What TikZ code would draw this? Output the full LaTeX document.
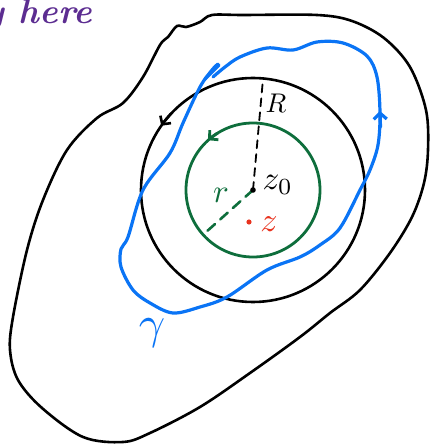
\documentclass[tikz,border=0pt]{standalone}
\usepackage{fontspec}
\usetikzlibrary{arrows.meta}
\definecolor{penblue}{HTML}{0A74F5}
\definecolor{pengreen}{HTML}{0E6E3C}
\definecolor{penred}{HTML}{E8321E}
\definecolor{penpurple}{HTML}{5C2D91}
\begin{document}
\begin{tikzpicture}[x=1pt,y=1pt,line cap=round,line join=round,
  blackpen/.style={draw=black,line width=2.6pt},
  bluepen/.style={draw=penblue,line width=3.2pt},
  greenpen/.style={draw=pengreen,line width=2.8pt},
  barb/.style={-{Straight Barb[length=6pt,width=13pt]}},
  lbl/.style={inner sep=0pt}]
\useasboundingbox (0,0) rectangle (430,445);
\clip (0,0) rectangle (430,445);
% centre
\coordinate (C) at (253,255);
% purple text (cut off at the left edge, as in the reference)
\node[lbl,text=penpurple,anchor=base east,scale=3.5] (here) at (93,421) {\bfseries\itshape y here};
% outer region
\draw[blackpen] plot[smooth cycle,tension=0.55] coordinates {
 (168,408) (177,419) (186,418) (200,423) (212,430) (243,430) (317,430) (352,424)
 (384,407) (410,378) (426,335) (428,295) (424,262) (412,228) (390,192) (360,155)
 (330,132) (300,108) (250,72) (200,38) (150,12) (123,3) (83,8) (42,37) (18,65)
 (10,95) (13,128) (27,195) (43,245) (67,295) (97,327) (123,342) (143,368) (160,400)};
% big circle
\draw[blackpen] (C) circle[radius=112];
\draw[blackpen,barb] ([shift={(137:112)}]C) arc[start angle=137,end angle=145,radius=112];
% small circle
\draw[greenpen] (C) circle[radius=67];
\draw[greenpen,barb] ([shift={(122:67)}]C) arc[start angle=122,end angle=132,radius=67];
% radius R
\coordinate (Rtop) at (263,366);
\draw[black,line width=1.8pt,dash pattern=on 8pt off 6pt] (C) -- (Rtop);
\node[lbl,scale=2.7] (Rlab) at (276,342) {$R$};
% radius r
\coordinate (rend) at (205,212);
\draw[pengreen,line width=2.6pt,dash pattern=on 10pt off 7pt] (C) -- (rend);
\node[lbl,text=pengreen,scale=3.3] (rlab) at (221,250) {$r$};
% z0
\fill[black] (C) circle[radius=2.8];
\node[lbl,scale=3.3,anchor=west] (z0lab) at (262,260) {$z_0$};
% z
\coordinate (zpt) at (249,223);
\fill[penred] (zpt) circle[radius=2.6];
\node[lbl,text=penred,scale=3.4] (zlab) at (269,221) {$z$};
% gamma curve
\draw[bluepen] plot[smooth,tension=0.55] coordinates {
 (213,368) (225,378) (240,388) (267,397) (293,395) (317,403) (343,402) (367,389)
 (377,368) (380,332) (378,300) (370,275) (360,255) (340,217) (320,200) (300,188)
 (267,175) (227,148) (200,138) (173,132) (150,142) (133,155) (121,178) (121,196)
 (128,208) (143,255) (170,292) (183,322) (200,358) (212,375) (218,381)};
\draw[bluepen] (205,366) -- (219,380);
\coordinate (gtip) at (380,334);
\draw[bluepen,barb] (380.5,318) -- (gtip);
\node[lbl,text=penblue,scale=4.6] (glab) at (152,112) {$\gamma$};
\end{tikzpicture}
\end{document}
